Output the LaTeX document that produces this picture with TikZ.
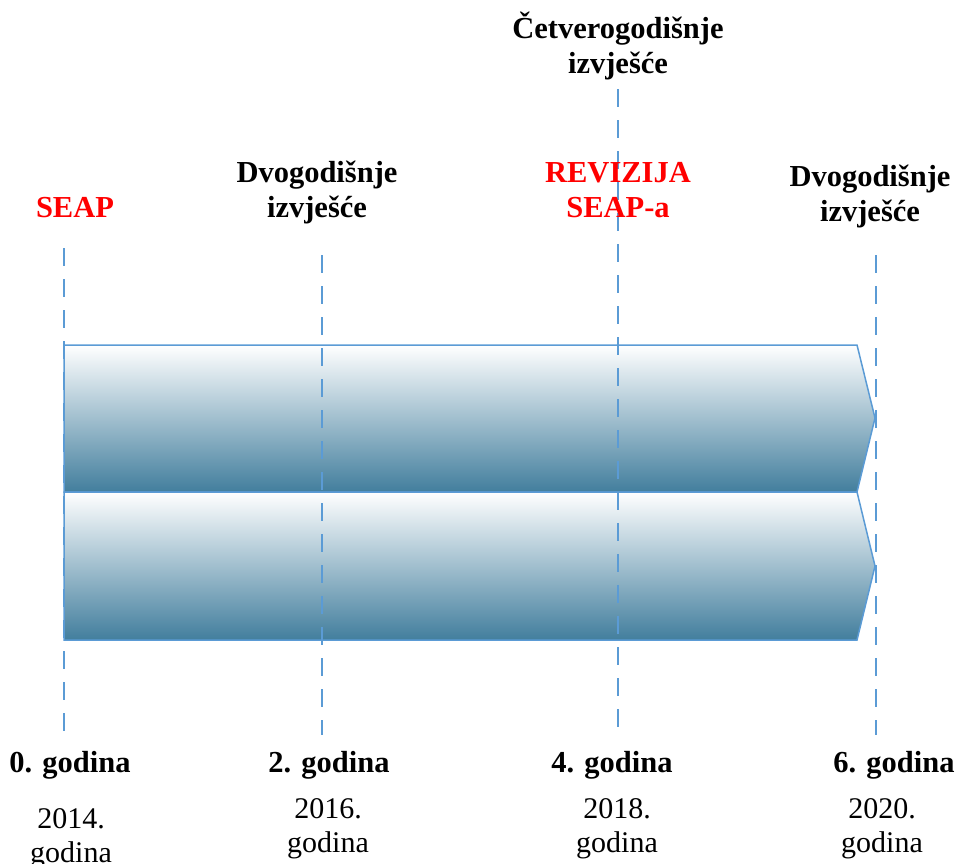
\documentclass[tikz,border=0pt]{standalone}
\usepackage{fontspec}
\setmainfont{Liberation Serif}
\definecolor{bandblue}{RGB}{66,126,157}
\definecolor{edgeblue}{RGB}{91,155,213}
\definecolor{labelred}{RGB}{255,0,0}
\tikzset{
  band/.style={draw=edgeblue, line width=1.5pt, top color=white, bottom color=bandblue},
  guide/.style={draw=edgeblue, line width=2.6pt, dash pattern=on 18pt off 13pt},
  head/.style={font=\fontsize{30.5}{35}\selectfont\bfseries, align=center, anchor=base, inner sep=0pt},
  redhead/.style={head, text=labelred},
  year/.style={font=\fontsize{30}{34}\selectfont, align=center, anchor=base, inner sep=0pt}
}
\begin{document}
\begin{tikzpicture}[x=1pt,y=-1pt]
\useasboundingbox (0,0) rectangle (957,863);
% bands
\path[band] (64,345) -- (857,345) -- (875,418) -- (857,492) -- (64,492) -- cycle;
\path[band] (64,492) -- (857,492) -- (875,566) -- (857,640) -- (64,640) -- cycle;
% guide lines
\coordinate (g0t) at (64,248);  \coordinate (g0b) at (64,735);
\coordinate (g2t) at (322,255); \coordinate (g2b) at (322,735);
\coordinate (g4t) at (618,89);  \coordinate (g4b) at (618,735);
\coordinate (g6t) at (876,255); \coordinate (g6b) at (876,735);
\draw[guide] (g0t) -- (g0b);
\draw[guide] (g2t) -- (g2b);
\draw[guide] (g4t) -- (g4b);
\draw[guide] (g6t) -- (g6b);
% top labels (base anchor = baseline of last line)
\node[redhead] (seap) at (75,217) {SEAP};
\node[head] (dvo1) at (317,217) {Dvogodišnje\\izvješće};
\node[head] (cet) at (618,73) {Četverogodišnje\\izvješće};
\node[redhead] (rev) at (618,217) {REVIZIJA\\SEAP-a};
\node[head] (dvo2) at (870,221) {Dvogodišnje\\izvješće};
% bottom labels
\node[head] (y0) at (70,772) {0. godina};
\node[head] (y2) at (329,772) {2. godina};
\node[head] (y4) at (612,772) {4. godina};
\node[head] (y6) at (894,772) {6. godina};
\node[year] (d0) at (71,862) {2014.\\godina};
\node[year] (d2) at (328,852) {2016.\\godina};
\node[year] (d4) at (617,852) {2018.\\godina};
\node[year] (d6) at (882,852) {2020.\\godina};
\end{tikzpicture}
\end{document}
